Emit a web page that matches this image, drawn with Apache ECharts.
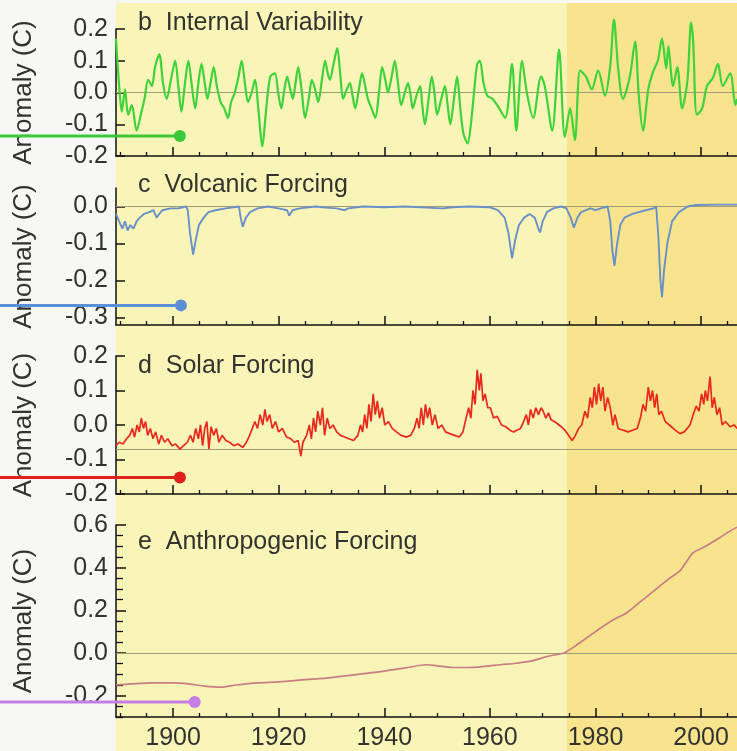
<!DOCTYPE html>
<html>
<head>
<meta charset="utf-8">
<script src="https://cdn.jsdelivr.net/npm/echarts@6/dist/echarts.min.js"></script>
<style>
html,body{margin:0;padding:0;background:#f7f8f5;}
#c{width:737px;height:751px;}
</style>
</head>
<body>
<div id="c"></div>
<script>
// ---------- data ----------
const X_MIN = 1889.2, X_MAX = 2006.8, SHADE_START = 1974.6;
const xMajorTicks = [1900, 1920, 1940, 1960, 1980, 2000];
const xMinorTicks = [1890, 1895, 1905, 1910, 1915, 1925, 1930, 1935, 1945, 1950, 1955, 1965, 1970, 1975, 1985, 1990, 1995, 2005];
const panelTitles = ['b  Internal Variability', 'c  Volcanic Forcing', 'd  Solar Forcing', 'e  Anthropogenic Forcing'];
const volcTicks = [-0.3, -0.2, -0.1, 0.0];
const anthTicks = [-0.2, 0.0, 0.2, 0.4, 0.6];
const anthMinorTicks = [-0.3, -0.25, -0.15, -0.1, -0.05, 0.05, 0.1, 0.15, 0.25, 0.3, 0.35, 0.45, 0.5, 0.55];
const solarRefLine = -0.075;

const internal = [
[1889.2,0.17],[1889.8,0.02],[1890.3,-0.06],[1890.9,0.01],[1891.5,-0.07],[1892.2,-0.04],[1893.1,-0.12],[1893.9,-0.07],[1894.6,-0.02],[1895.3,0.04],[1896.0,0.02],[1896.6,0.08],[1897.4,0.12],[1898.1,0.03],[1898.8,-0.02],[1899.6,0.04],[1900.4,0.1],[1901.0,0.02],[1901.6,-0.06],[1902.2,0.02],[1902.9,0.1],[1903.5,0.03],[1904.2,-0.05],[1904.8,0.03],[1905.4,0.09],[1906.0,0.03],[1906.5,-0.02],[1907.1,0.03],[1907.7,0.08],[1908.3,0.02],[1909.0,-0.03],[1909.7,-0.05],[1910.4,-0.08],[1911.0,-0.03],[1911.7,0.0],[1912.4,0.05],[1913.0,0.1],[1913.6,0.03],[1914.2,-0.03],[1914.9,0.0],[1915.5,0.04],[1916.2,-0.06],[1916.9,-0.17],[1917.6,-0.06],[1918.4,0.05],[1919.3,0.06],[1919.9,0.0],[1920.5,-0.05],[1921.0,0.0],[1921.6,0.05],[1922.2,0.01],[1922.7,-0.02],[1923.2,0.03],[1923.7,0.08],[1924.4,0.0],[1925.0,-0.08],[1925.7,-0.02],[1926.3,0.04],[1926.9,0.01],[1927.5,-0.03],[1928.2,0.04],[1928.8,0.1],[1929.3,0.06],[1929.7,0.04],[1930.4,0.09],[1931.1,0.14],[1931.7,0.05],[1932.2,-0.02],[1932.9,0.01],[1933.5,0.03],[1934.0,-0.01],[1934.5,-0.05],[1935.2,0.01],[1935.8,0.06],[1936.4,0.02],[1936.9,-0.02],[1937.6,-0.05],[1938.3,-0.08],[1939.0,0.0],[1939.6,0.08],[1940.2,0.04],[1940.7,0.0],[1941.4,0.05],[1942.0,0.1],[1942.6,0.03],[1943.2,-0.04],[1943.9,0.0],[1944.5,0.03],[1945.0,-0.01],[1945.4,-0.05],[1946.1,-0.01],[1946.8,0.02],[1947.2,-0.04],[1947.7,-0.1],[1948.4,-0.02],[1949.0,0.05],[1949.5,0.0],[1950.0,-0.07],[1950.8,-0.02],[1951.5,0.02],[1952.0,-0.04],[1952.5,-0.1],[1953.2,-0.02],[1953.8,0.05],[1954.4,-0.05],[1955.0,-0.13],[1955.8,-0.16],[1956.4,-0.1],[1957.0,0.0],[1957.6,0.09],[1958.1,0.1],
[1958.8,0.03],[1959.5,-0.01],[1960.5,-0.02],[1961.4,-0.04],[1962.9,-0.08],[1964.2,0.09],[1965.0,-0.12],[1966.1,0.1],[1967.0,0.0],[1968.2,-0.08],[1969.7,0.05],[1970.4,0.02],[1971.8,-0.12],[1973.1,0.135],[1974.2,-0.14],[1975.2,-0.05],[1976.1,-0.15],[1977.1,0.07],[1978.2,0.05],[1979.3,0.01],[1980.5,0.07],[1981.8,-0.01],[1982.8,0.085],[1983.5,0.23],[1984.3,0.075],[1985.2,-0.02],[1986.5,0.05],[1987.5,0.16],[1988.2,-0.01],[1989.0,-0.12],[1990.0,0.01],[1990.9,0.065],[1991.8,0.1],[1992.6,0.17],[1993.4,0.075],[1993.8,0.145],[1994.7,0.02],[1995.5,0.08],[1996.4,-0.05],[1997.4,0.035],[1998.1,0.22],[1998.5,0.16],[1999.2,-0.07],[2000.2,-0.05],[2001.1,0.02],[2002.2,0.045],[2003.2,0.09],[2004.1,0.02],[2005.5,0.06],[2006.5,-0.04],[2006.8,-0.02]
];

const volcanic = [
[1889.2,-0.02],[1889.8,-0.04],[1890.4,-0.06],[1890.9,-0.04],[1891.4,-0.065],[1891.9,-0.05],[1892.5,-0.06],[1893.1,-0.04],[1893.7,-0.03],[1894.5,-0.02],[1895.5,-0.015],[1896.3,-0.01],[1896.9,-0.03],[1897.4,-0.02],[1898.0,-0.01],[1899.5,-0.005],[1901.0,-0.005],[1902.5,0.0],[1902.8,-0.01],[1903.2,-0.07],[1903.8,-0.13],[1904.3,-0.09],[1904.9,-0.05],[1905.8,-0.03],[1906.7,-0.015],[1908.0,-0.01],[1910.0,-0.005],[1912.5,0.0],[1912.8,-0.03],[1913.2,-0.055],[1913.8,-0.03],[1914.6,-0.015],[1916,-0.005],[1918,0.0],[1920,-0.005],[1921.6,-0.01],[1922.0,-0.025],[1922.6,-0.01],[1924,-0.005],[1927,0.0],[1929,-0.003],[1931,-0.005],[1932.5,-0.01],[1933.2,-0.005],[1936,0.0],[1940,-0.002],[1944,0.0],[1948,-0.003],[1951,-0.005],[1953,-0.002],[1956,0.0],[1960,-0.002],[1961.5,-0.01],[1962.8,-0.03],[1963.5,-0.07],[1964.2,-0.14],[1964.8,-0.09],[1965.5,-0.05],[1966.5,-0.03],[1967.5,-0.02],[1968.5,-0.03],[1969.2,-0.06],[1969.5,-0.07],[1970.0,-0.04],[1970.8,-0.015],[1972,-0.005],[1973.5,0.0],[1974.5,-0.005],[1975.3,-0.03],[1975.9,-0.057],[1976.6,-0.03],[1977.3,-0.015],[1979,-0.005],[1980,-0.01],[1981,-0.005],[1982.3,0.0],[1982.8,-0.04],[1983.2,-0.12],[1983.6,-0.16],[1984.1,-0.1],[1984.7,-0.05],[1985.5,-0.03],[1987,-0.02],[1989.5,-0.01],[1991.0,-0.005],[1991.5,0.0],[1991.9,-0.08],[1992.3,-0.2],[1992.6,-0.245],[1993.0,-0.17],[1993.6,-0.1],[1994.5,-0.04],[1995.8,-0.015],[1997.5,0.0],[1999,0.004],[2003,0.005],[2006.8,0.005]
];

const solar = [
[1889.2,-0.06],[1889.8,-0.05],[1890.5,-0.055],[1891.2,-0.04],[1891.8,-0.03],[1892.3,-0.01],[1892.7,-0.035],[1893.2,0.0],[1893.6,-0.02],[1894.0,0.02],[1894.4,-0.01],[1894.8,0.01],[1895.2,-0.03],[1895.7,-0.01],[1896.2,-0.04],[1896.7,-0.02],[1897.3,-0.055],[1897.8,-0.03],[1898.4,-0.05],[1899.0,-0.04],[1899.8,-0.06],[1900.5,-0.055],[1901.3,-0.07],[1902.0,-0.06],[1902.7,-0.05],[1903.3,-0.03],[1903.8,-0.05],[1904.3,-0.01],[1904.8,-0.04],[1905.2,0.0],[1905.6,-0.06],[1906.0,-0.01],[1906.4,0.01],[1906.8,-0.07],[1907.2,-0.005],[1907.7,-0.03],[1908.2,-0.01],[1908.7,-0.05],[1909.3,-0.03],[1910.0,-0.045],[1910.7,-0.05],[1911.5,-0.06],[1912.3,-0.055],[1913.2,-0.065],[1913.9,-0.05],[1914.5,-0.03],[1915.0,-0.01],[1915.5,0.01],[1916.0,-0.01],[1916.5,0.03],[1917.0,0.0],[1917.4,0.045],[1917.8,0.01],[1918.3,0.03],[1918.8,-0.01],[1919.4,0.01],[1920.0,-0.02],[1920.7,-0.01],[1921.5,-0.035],[1922.3,-0.04],[1923.0,-0.05],[1923.7,-0.045],[1924.2,-0.09],[1924.6,-0.05],[1925.3,-0.03],[1925.8,0.0],[1926.2,-0.04],[1926.6,0.02],[1927.0,-0.02],[1927.4,0.04],[1927.9,0.0],[1928.3,0.05],[1928.7,-0.03],[1929.2,0.02],[1929.7,-0.01],[1930.3,0.0],[1931.0,-0.02],[1931.7,-0.03],[1932.5,-0.035],[1933.3,-0.04],[1934.2,-0.045],[1935.0,-0.03],[1935.5,0.0],[1935.9,-0.02],[1936.3,0.03],[1936.7,-0.01],[1937.1,0.06],[1937.5,0.01],[1937.9,0.09],[1938.3,0.03],[1938.7,0.07],[1939.1,0.02],[1939.6,0.05],[1940.1,0.0],[1940.8,0.01],[1941.5,-0.01],[1942.3,-0.02],[1943.2,-0.03],[1944.2,-0.035],[1945.0,-0.03],[1945.7,-0.01],[1946.2,0.02],[1946.6,-0.01],[1947.0,0.05],[1947.4,0.0],[1947.8,0.06],[1948.2,0.02],[1948.6,0.05],[1949.1,0.0],[1949.6,0.03],[1950.2,-0.01],[1950.9,0.0],[1951.6,-0.02],[1952.4,-0.025],[1953.3,-0.03],[1954.2,-0.035],[1954.9,-0.02],[1955.5,0.02],[1956.0,0.05],[1956.4,0.02],[1956.8,0.1],[1957.2,0.06],[1957.6,0.16],[1958.0,0.1],[1958.3,0.15],[1958.7,0.07],[1959.1,0.09],[1959.6,0.05],[1960.1,0.05],[1960.7,0.02],[1961.4,0.025],[1962.2,0.0],[1963.0,-0.005],[1963.8,-0.015],[1964.5,-0.02],[1965.1,-0.015],[1965.8,-0.01],[1966.4,0.01],[1966.9,0.03],[1967.3,0.0],[1967.7,0.045],[1968.2,0.02],[1968.7,0.05],[1969.2,0.03],[1969.7,0.05],[1970.1,0.04],[1970.6,0.02],[1971.1,0.035],[1971.6,0.015],[1972.2,0.01],[1972.7,0.005],[1973.5,-0.005],[1974.2,-0.015],[1974.9,-0.03],[1975.6,-0.045],[1976.2,-0.03],[1976.8,-0.01],[1977.4,0.0],[1978.0,0.04],[1978.5,0.02],[1979.0,0.08],[1979.4,0.05],[1979.8,0.11],[1980.2,0.06],[1980.6,0.12],[1981.0,0.07],[1981.4,0.11],[1981.8,0.04],[1982.3,0.08],[1982.8,0.05],[1983.3,0.0],[1983.7,0.03],[1984.3,-0.01],[1985.2,-0.015],[1986.2,-0.02],[1987.0,-0.015],[1987.9,-0.01],[1988.5,0.02],[1989.0,0.06],[1989.5,0.04],[1990.0,0.11],[1990.4,0.07],[1990.8,0.1],[1991.2,0.05],[1991.6,0.09],[1992.0,0.03],[1992.5,0.04],[1993.2,0.01],[1994.0,0.0],[1995.1,-0.015],[1996.0,-0.025],[1996.8,-0.02],[1997.9,0.0],[1998.5,0.03],[1999.1,0.055],[1999.6,0.04],[2000.1,0.09],[2000.5,0.06],[2000.8,0.1],[2001.2,0.07],[2001.7,0.14],[2002.1,0.05],[2002.5,0.08],[2003.0,0.03],[2003.5,0.05],[2004.0,0.0],[2004.6,0.01],[2005.5,-0.005],[2006.3,0.0],[2006.8,-0.01]
];

const anthro = [
[1889.2,-0.15],[1892,-0.145],[1896,-0.14],[1900,-0.14],[1903,-0.145],[1906,-0.155],[1909,-0.16],[1912,-0.15],[1916,-0.14],[1920,-0.135],[1925,-0.125],[1930,-0.115],[1935,-0.1],[1940,-0.085],[1944,-0.07],[1948,-0.055],[1950,-0.06],[1953,-0.068],[1956,-0.068],[1959,-0.063],[1962,-0.055],[1965,-0.048],[1968,-0.037],[1971,-0.015],[1974,0.0],[1976,0.03],[1978,0.065],[1980,0.1],[1983,0.15],[1986,0.19],[1988,0.23],[1990,0.27],[1992,0.31],[1994,0.35],[1996,0.385],[1997,0.42],[1998.5,0.47],[2000,0.49],[2001.5,0.51],[2003.5,0.54],[2005,0.565],[2006.8,0.59]
];

// ---------- styling / layout ----------
const FONT = 'Liberation Sans, Arial, Helvetica, sans-serif';
const TXT = '#33332e';
const grids = [
  {left:116, right:0, top:29,  height:127},
  {left:116, right:0, top:188, height:137},
  {left:116, right:0, top:356, height:138},
  {left:116, right:0, top:525, height:192}
];
const titleTops = [11, 173, 354, 530];
const fmt = v => (Math.abs(v) < 1e-9 ? 0 : v).toFixed(1);

const xAxes = [];
grids.forEach((g, i) => {
  const last = i === grids.length - 1;
  xAxes.push({
    type:'value', gridIndex:i, min:X_MIN, max:X_MAX, position:'bottom',
    axisLine:{show:true, onZero:false, lineStyle:{color:'#111', width:1.5}},
    axisTick:{show:true, inside:true, length:9, customValues:xMajorTicks, lineStyle:{color:'#111', width:1.5}},
    axisLabel:{show:last, customValues:xMajorTicks, fontSize:25, fontFamily:FONT, color:TXT, margin:9,
               formatter: v => String(Math.round(v))},
    splitLine:{show:false}
  });
  xAxes.push({
    type:'value', gridIndex:i, min:X_MIN, max:X_MAX, position:'bottom',
    axisLine:{show:false, onZero:false},
    axisTick:{show:true, inside:true, length:4, customValues:xMinorTicks, lineStyle:{color:'#111', width:1.3}},
    axisLabel:{show:false},
    splitLine:{show:false}
  });
});

const yBase = (i, extra) => Object.assign({
  type:'value', gridIndex:i, position:'left',
  name:'Anomaly (C)', nameLocation:'middle', nameGap:79,
  nameTextStyle:{fontSize:26, fontFamily:FONT, color:TXT},
  axisLine:{show:true, onZero:false, lineStyle:{color:'#111', width:1.5}},
  axisTick:{show:true, inside:true, length:9, lineStyle:{color:'#111', width:1.5}},
  axisLabel:{fontSize:25, fontFamily:FONT, color:TXT, margin:8, formatter:fmt},
  splitLine:{show:false}
}, extra);

const yAxes = [
  yBase(0, {min:-0.2, max:0.2, interval:0.1}),
  yBase(1, {min:-0.32, max:0.05,
    axisTick:{show:true, inside:true, length:9, customValues:volcTicks, lineStyle:{color:'#111', width:1.5}},
    axisLabel:{fontSize:25, fontFamily:FONT, color:TXT, margin:8, formatter:fmt, customValues:volcTicks}}),
  yBase(2, {min:-0.2, max:0.2, interval:0.1}),
  yBase(3, {min:-0.3, max:0.6,
    axisTick:{show:true, inside:true, length:10, customValues:anthTicks, lineStyle:{color:'#111', width:1.5}},
    axisLabel:{fontSize:25, fontFamily:FONT, color:TXT, margin:8, formatter:fmt, customValues:anthTicks}}),
  {type:'value', gridIndex:3, position:'left', min:-0.3, max:0.6,
    axisLine:{show:false, onZero:false},
    axisTick:{show:true, inside:true, length:7, customValues:anthMinorTicks, lineStyle:{color:'#111', width:1.3}},
    axisLabel:{show:false}, splitLine:{show:false}}
];

const refLine = (val) => ({
  silent:true, symbol:'none', label:{show:false}, animation:false,
  lineStyle:{color:'#a09c78', width:1.2, type:'solid'},
  data:[{yAxis:val}]
});

const series = [
  {type:'line', xAxisIndex:0, yAxisIndex:0, data:internal, showSymbol:false, z:5, smooth:0.3, clip:false,
   lineStyle:{color:'#3fd23a', width:2.2}, markLine:refLine(0)},
  {type:'line', xAxisIndex:2, yAxisIndex:1, data:volcanic, showSymbol:false, z:5,
   lineStyle:{color:'#6a90c8', width:1.9}, markLine:refLine(0)},
  {type:'line', xAxisIndex:4, yAxisIndex:2, data:solar, showSymbol:false, z:5,
   lineStyle:{color:'#e8281c', width:1.7}, markLine:refLine(solarRefLine)},
  {type:'line', xAxisIndex:6, yAxisIndex:3, data:anthro, showSymbol:false, z:5, smooth:0.3,
   lineStyle:{color:'#c87e82', width:1.7}, markLine:refLine(0)}
];

const chart = echarts.init(document.getElementById('c'), null, {renderer:'canvas'});
chart.setOption({
  animation:false,
  backgroundColor:'#f7f8f5',
  title: panelTitles.map((t, i) => ({
    text:t, left:138, top:titleTops[i], padding:0,
    textStyle:{fontSize:25, fontWeight:'normal', fontFamily:FONT, color:TXT, lineHeight:25}
  })),
  grid: grids,
  xAxis: xAxes,
  yAxis: yAxes,
  series: series
});

// backgrounds and left connector lines, positioned through the axis scale
const W = chart.getWidth(), H = chart.getHeight();
const xLeft = chart.convertToPixel({xAxisIndex:0}, X_MIN);
const xShade = chart.convertToPixel({xAxisIndex:0}, SHADE_START);
const connectors = [
  {color:'#3cc83c', grid:0, value:-0.137, end:1901.3},
  {color:'#5b8fd8', grid:1, value:-0.267, end:1901.5},
  {color:'#e0201a', grid:2, value:-0.152, end:1901.3},
  {color:'#c47ee4', grid:3, value:-0.23, end:1904.1}
];
const graphics = [
  {type:'rect', z:-10, silent:true, shape:{x:xLeft, y:3, width:W - xLeft, height:H - 3}, style:{fill:'#f9f4b8'}},
  {type:'rect', z:-9, silent:true, shape:{x:xShade, y:3, width:W - xShade, height:H - 3}, style:{fill:'#f8e48e'}}
];
connectors.forEach(c => {
  const p = chart.convertToPixel({xAxisIndex:c.grid * 2, yAxisIndex:c.grid}, [c.end, c.value]);
  graphics.push({type:'line', z:100, silent:true, shape:{x1:0, y1:p[1], x2:p[0], y2:p[1]}, style:{stroke:c.color, lineWidth:3}});
  graphics.push({type:'circle', z:101, silent:true, shape:{cx:p[0], cy:p[1], r:6}, style:{fill:c.color}});
});
chart.setOption({graphic: graphics});
</script>
</body>
</html>
